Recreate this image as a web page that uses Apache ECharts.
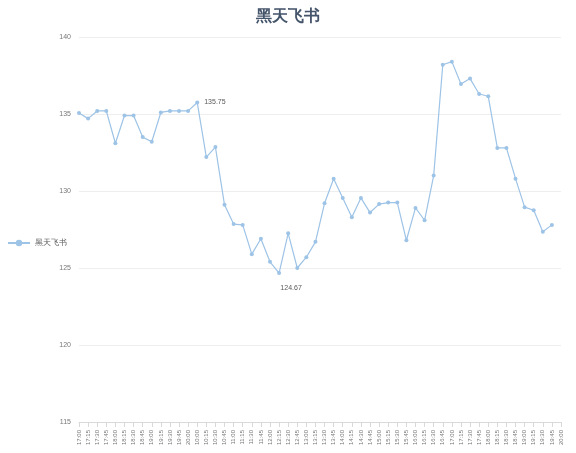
<!DOCTYPE html><html><head><meta charset="utf-8"><script src="https://cdn.jsdelivr.net/npm/echarts@6/dist/echarts.min.js"></script></head><body style="margin:0"><div id="c" style="width:576px;height:453px"></div><script>
const categories=["17:00","17:15","17:30","17:45","18:00","18:15","18:30","18:45","19:00","19:15","19:30","19:45","20:00","10:00","10:15","10:30","10:45","11:00","11:15","11:30","11:45","12:00","12:15","12:30","12:45","13:00","13:15","13:30","13:45","14:00","14:15","14:30","14:45","15:00","15:15","15:30","15:45","16:00","16:15","16:30","16:45","17:00","17:15","17:30","17:45","18:00","18:15","18:30","18:45","19:00","19:15","19:30","19:45","20:00"];
const values=[135.07,134.7,135.2,135.2,133.1,134.9,134.9,133.5,133.2,135.1,135.2,135.2,135.2,135.75,132.2,132.85,129.1,127.85,127.8,125.9,126.9,125.4,124.67,127.25,125,125.7,126.7,129.2,130.8,129.55,128.3,129.55,128.6,129.15,129.25,129.25,126.8,128.9,128.1,131.0,138.2,138.4,136.95,137.3,136.3,136.15,132.8,132.8,130.8,128.95,128.75,127.35,127.8];
const data=values.map((v,i)=>{
 if(i===13) return {value:v,label:{show:true,position:'right',formatter:'135.75'}};
 if(i===22) return {value:v,label:{show:true,position:'bottom',offset:[12,4],formatter:'124.67'}};
 return v;});
const ch=echarts.init(document.getElementById('c'));
ch.setOption({
 title:{text:'黑天飞书',left:'center',top:4,textStyle:{fontSize:16,fontWeight:'bold',color:'#44546a'}},
 legend:{orient:'vertical',left:2,top:234,itemWidth:22,itemHeight:8,textStyle:{fontSize:8,color:'#595959'},data:['黑天飞书']},
 grid:{left:79,right:15,top:37,bottom:31},
 xAxis:{type:'category',data:categories,boundaryGap:false,axisLine:{lineStyle:{color:'#d9d9d9'}},axisTick:{show:true,lineStyle:{color:'#d9d9d9'}},axisLabel:{rotate:90,fontSize:6,color:'#777',interval:0}},
 yAxis:{type:'value',min:115,max:140,interval:5,axisLine:{show:false},axisTick:{show:false},splitLine:{lineStyle:{color:'#eeeeee'}},axisLabel:{fontSize:7,color:'#777'}},
 series:[{name:'黑天飞书',type:'line',data:data,symbol:'circle',symbolSize:4,lineStyle:{color:'#9dc3e6',width:1.2},itemStyle:{color:'#9dc3e6'},label:{fontSize:7,color:'#595959'}}]
});
</script></body></html>
